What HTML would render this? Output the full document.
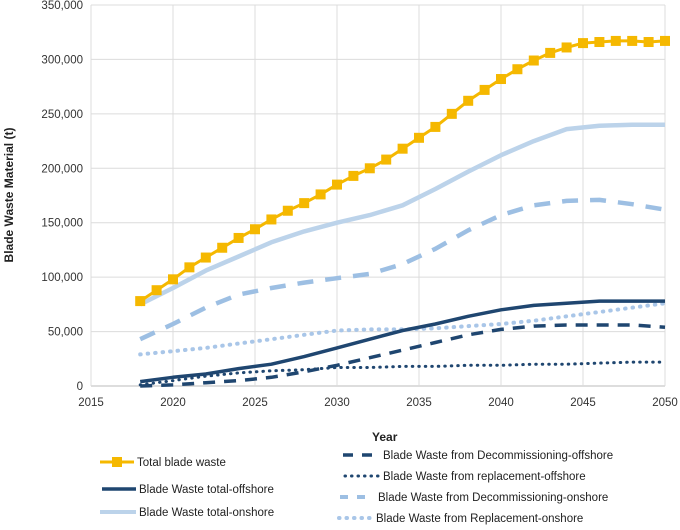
<!DOCTYPE html>
<html><head><meta charset="utf-8">
<style>
body{margin:0;background:#fff;width:680px;height:525px;overflow:hidden;font-family:"Liberation Sans",sans-serif;}
svg text{font-family:"Liberation Sans",sans-serif;}
</style></head>
<body>
<svg id="chart" width="680" height="525" xmlns="http://www.w3.org/2000/svg">
<g id="grid"></g>
<g id="axes"></g>
<g id="series"></g>
<text transform="translate(13,195) rotate(-90)" text-anchor="middle" font-size="12" font-weight="bold" fill="#222">Blade Waste Material (t)</text>
<text x="372" y="441" font-size="12" font-weight="bold" fill="#222">Year</text>
<g font-size="11.5" fill="#222">
 <g>
  <line x1="100" y1="462" x2="134" y2="462" stroke="#f5b800" stroke-width="3"/>
  <rect x="112" y="457" width="10" height="10" fill="#f5b800"/>
  <text x="137" y="466">Total blade waste</text></g>
 <g>
  <line x1="102" y1="489" x2="136" y2="489" stroke="#1f4670" stroke-width="3.5"/>
  <text x="139" y="493">Blade Waste total-offshore</text></g>
 <g>
  <line x1="100" y1="512" x2="136" y2="512" stroke="#bcd3ea" stroke-width="4"/>
  <text x="139" y="516">Blade Waste total-onshore</text></g>
 <g>
  <line x1="343" y1="455" x2="380" y2="455" stroke="#1f4670" stroke-width="3.5" stroke-dasharray="10,9"/>
  <text x="383" y="459">Blade Waste from Decommissioning-offshore</text></g>
 <g>
  <line x1="345" y1="476" x2="380" y2="476" stroke="#1f4670" stroke-width="3" stroke-dasharray="0.5,6" stroke-linecap="round"/>
  <text x="383" y="480">Blade Waste from replacement-offshore</text></g>
 <g>
  <line x1="340" y1="497" x2="368" y2="497" stroke="#9dbfe3" stroke-width="4" stroke-dasharray="8,9"/>
  <text x="378" y="501">Blade Waste from Decommissioning-onshore</text></g>
 <g>
  <line x1="339" y1="518" x2="370" y2="518" stroke="#a9c6e8" stroke-width="4" stroke-dasharray="0.5,7" stroke-linecap="round"/>
  <text x="376" y="522">Blade Waste from Replacement-onshore</text></g>
</g>
</svg>
<script>
const yearsAnnual=[2018,2019,2020,2021,2022,2023,2024,2025,2026,2027,2028,2029,2030,2031,2032,2033,2034,2035,2036,2037,2038,2039,2040,2041,2042,2043,2044,2045,2046,2047,2048,2049,2050];
const totalWaste=[78,88,98,109,118,127,136,144,153,161,168,176,185,193,200,208,218,228,238,250,262,272,282,291,299,306,311,315,316,317,317,316,317];
const yearsBi=[2018,2020,2022,2024,2026,2028,2030,2032,2034,2036,2038,2040,2042,2044,2046,2048,2050];
const totalOnshore=[75,90,106,119,132,142,150,157,166,181,197,212,225,236,239,240,240];
const decomOnshore=[43,57,72,84,90,95,99,103,112,126,143,157,166,170,171,167,162];
const replOnshore=[29,32,35,39,43,47,51,52,52,53,55,57,60,64,68,72,76];
const totalOffshore=[4,8,11,16,20,27,35,43,51,57,64,70,74,76,78,78,78];
const decomOffshore=[0,1,3,5,8,13,19,26,33,40,47,52,55,56,56,56,54];
const replOffshore=[1,5,9,12,14,15,17,17,18,18,19,19,20,20,21,22,22];
const xTicks=[2015,2020,2025,2030,2035,2040,2045,2050];
const yTicks=[0,50,100,150,200,250,300,350];

const NS="http://www.w3.org/2000/svg";
const L=91,R=665,T=5,B=386;
const xs=v=>L+(v-2015)/35*(R-L);
const ys=v=>B-v/350*(B-T);
function mk(tag,attrs,parent){const e=document.createElementNS(NS,tag);for(const k in attrs)e.setAttribute(k,attrs[k]);parent.appendChild(e);return e;}
const grid=document.getElementById('grid'),axes=document.getElementById('axes'),ser=document.getElementById('series');
yTicks.forEach(t=>{
  const l=mk('line',{x1:L,x2:R,y1:ys(t),y2:ys(t),stroke:t===0?'#bbb':'#dcdcdc','stroke-width':1},grid);
  
  
  const tx=mk('text',{x:L-8,y:ys(t)+4,'text-anchor':'end','font-size':11.5,fill:'#333'},axes);
  tx.textContent=t===0?'0':(t+',000');
  
  
});
xTicks.forEach(t=>{
  const l=mk('line',{x1:xs(t),x2:xs(t),y1:T,y2:B,stroke:'#dcdcdc','stroke-width':1},grid);
  
  
  const tx=mk('text',{x:xs(t),y:B+20,'text-anchor':'middle','font-size':11.5,fill:'#333'},axes);
  tx.textContent=t;
  
  
});
function line(xv,yv,style,name){
  const d=xv.map((x,i)=>(i?'L':'M')+xs(x).toFixed(1)+','+ys(yv[i]).toFixed(1)).join(' ');
  const p=mk('path',Object.assign({d:d,fill:'none','stroke-linejoin':'round'},style),ser);
  
  
}
line(yearsBi,replOffshore,{stroke:'#1f4670','stroke-width':3,'stroke-dasharray':'0.5,6','stroke-linecap':'round'},'line-replacement-offshore');
line(yearsBi,decomOffshore,{stroke:'#1f4670','stroke-width':3.5,'stroke-dasharray':'12,9'},'line-decom-offshore');
line(yearsBi,replOnshore,{stroke:'#a9c6e8','stroke-width':4,'stroke-dasharray':'0.5,7','stroke-linecap':'round'},'line-replacement-onshore');
line(yearsBi,decomOnshore,{stroke:'#9dbfe3','stroke-width':4.5,'stroke-dasharray':'16,12'},'line-decom-onshore');
line(yearsBi,totalOffshore,{stroke:'#1f4670','stroke-width':3.5},'line-total-offshore');
line(yearsBi,totalOnshore,{stroke:'#bcd3ea','stroke-width':4.5},'line-total-onshore');
line(yearsAnnual,totalWaste,{stroke:'#f5b800','stroke-width':3},'line-total-blade-waste');
yearsAnnual.forEach((y,i)=>{
  const r=mk('rect',{x:xs(y)-5,y:ys(totalWaste[i])-5,width:10,height:10,fill:'#f5b800'},ser);
  
  
});
</script>
</body></html>
